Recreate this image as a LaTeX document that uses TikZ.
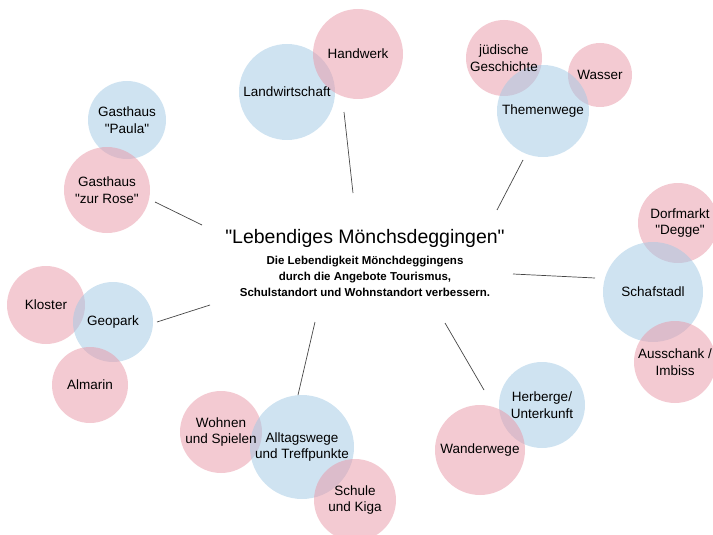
\documentclass[tikz,border=0pt]{standalone}
\usepackage{fontspec}
\setmainfont{Liberation Sans}
\newfontfamily\arial{Liberation Sans}
\usetikzlibrary{positioning}
\definecolor{bubbleblue}{RGB}{160,200,228}
\definecolor{bubblepink}{RGB}{232,150,165}
\definecolor{linkgray}{RGB}{70,70,70}

\begin{document}
\begin{tikzpicture}[x=1pt, y=-1pt,
		bubble/.style={
			circle,
			inner sep=0pt,
			minimum size=#1,
			fill opacity=0.5
		},
		blue/.style={bubble=#1, fill=bubbleblue},
		pink/.style={bubble=#1, fill=bubblepink},
		tag/.style={align=center, font=\arial\fontsize{13.5}{16.5}\selectfont},
		link/.style={draw=linkgray, line width=0.7pt}]
		\useasboundingbox (0,0) rectangle (713,535);
		
		% bubbles first, texts on top
		\node[blue=96pt] (landwirtschaft) at (287,92) {};
		\node[pink=90pt] (handwerk) at (358,54) {};
		\node[pink=76pt] (geschichte) at (504,58) {};
		\node[pink=64pt] (wasser) at (600,75) {};
		\node[blue=92pt] (themenwege) at (543,111) {};
		\node[pink=80pt] (dorfmarkt) at (678,223) {};
		\node[blue=100pt] (schafstadl) at (653,292) {};
		\node[pink=82pt] (ausschank) at (675,362) {};
		\node[blue=86pt] (herberge) at (542,405) {};
		\node[pink=90pt] (wanderwege) at (480,450) {};
		\node[pink=82pt] (wohnen) at (221,432) {};
		\node[blue=104pt] (alltagswege) at (302,447) {};
		\node[pink=82pt] (schule) at (355,500) {};
		\node[pink=78pt] (kloster) at (46,305) {};
		\node[blue=80pt] (geopark) at (113,322) {};
		\node[pink=76pt] (almarin) at (90,385) {};
		\node[blue=78pt] (paula) at (127,120) {};
		\node[pink=86pt] (rose) at (107,190) {};
		
		\node[tag] (landwirtschaft text) at (landwirtschaft) {Landwirtschaft};
		\node[tag] (handwerk text) at (handwerk) {Handwerk};
		\node[tag] (geschichte text) at (geschichte) {jüdische\\Geschichte};
		\node[tag] (wasser text) at (wasser) {Wasser};
		\node[tag] (themenwege text) at (themenwege) {Themenwege};
		\node[tag] (dorfmarkt text) at (680,223) {Dorfmarkt\\"Degge"};
		\node[tag] (schafstadl text) at (schafstadl) {Schafstadl};
		\node[tag] (ausschank text) at (ausschank) {Ausschank /\\Imbiss};
		\node[tag] (herberge text) at (herberge) {Herberge/\\Unterkunft};
		\node[tag] (wanderwege text) at (wanderwege) {Wanderwege};
		\node[tag] (wohnen text) at (wohnen) {Wohnen\\und Spielen};
		\node[tag] (alltagswege text) at (alltagswege) {Alltagswege\\und Treffpunkte};
		\node[tag] (schule text) at (schule) {Schule\\und Kiga};
		\node[tag] (kloster text) at (kloster) {Kloster};
		\node[tag] (geopark text) at (geopark) {Geopark};
		\node[tag] (almarin text) at (almarin) {Almarin};
		\node[tag] (paula text) at (paula) {Gasthaus\\"Paula"};
		\node[tag] (rose text) at (rose) {Gasthaus\\"zur Rose"};
		
		% centre
		\node[font=\arial\fontsize{19.5}{22}\selectfont] (title) at (365,238) {"Lebendiges Mönchsdeggingen"};
		\node[align=center, font=\arial\bfseries\fontsize{11.5}{16}\selectfont] (goal) at (365,276)
			{Die Lebendigkeit Mönchdeggingens\\durch die Angebote Tourismus,\\Schulstandort und Wohnstandort verbessern.};
		
		% spokes
		\coordinate (hub n) at (353,193);
		\coordinate (hub ne) at (497,210);
		\coordinate (hub e) at (513,274);
		\coordinate (hub se) at (445,323);
		\coordinate (hub s) at (315,322);
		\coordinate (hub w) at (157,322);
		\coordinate (hub nw) at (202,225);
		\coordinate (end n) at (344,112);
		\coordinate (end ne) at (523,160);
		\coordinate (end e) at (595,278);
		\coordinate (end se) at (484,390);
		\coordinate (end s) at (298,395);
		\coordinate (end w) at (210,305);
		\coordinate (end nw) at (155,202);
		\draw[link] (hub n) -- (end n);
		\draw[link] (hub ne) -- (end ne);
		\draw[link] (hub e) -- (end e);
		\draw[link] (hub se) -- (end se);
		\draw[link] (hub s) -- (end s);
		\draw[link] (hub w) -- (end w);
		\draw[link] (hub nw) -- (end nw);
	\end{tikzpicture}
\end{document}
